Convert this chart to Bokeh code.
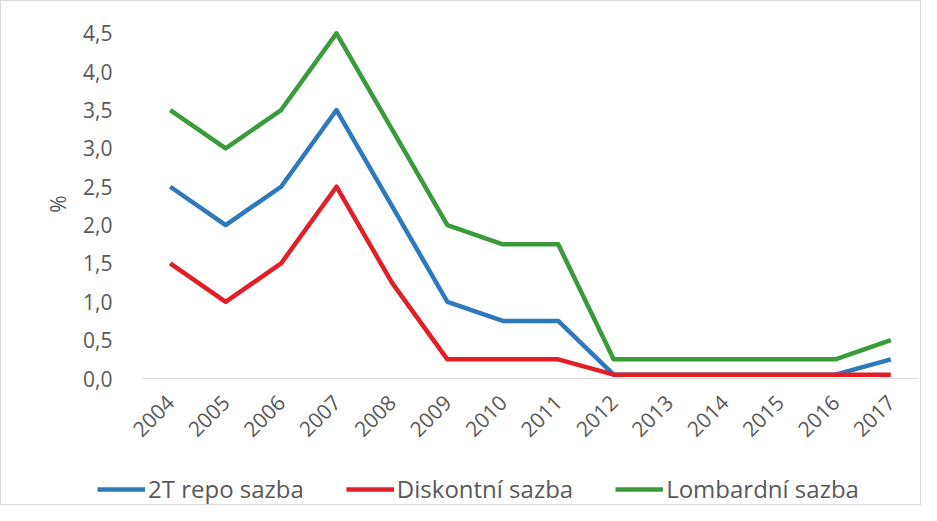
import math
from bokeh.plotting import figure
from bokeh.layouts import column
from bokeh.models import (FactorRange, Range1d, FixedTicker, CustomJSTickFormatter,
                          Legend, LegendItem)
from bokeh.embed import file_html
from bokeh.resources import INLINE

years = [str(y) for y in range(2004, 2018)]
repo = [2.5, 2.0, 2.5, 3.5, 2.25, 1.0, 0.75, 0.75, 0.05, 0.05, 0.05, 0.05, 0.05, 0.25]
diskont = [1.5, 1.0, 1.5, 2.5, 1.25, 0.25, 0.25, 0.25, 0.05, 0.05, 0.05, 0.05, 0.05, 0.05]
lombard = [3.5, 3.0, 3.5, 4.5, 3.25, 2.0, 1.75, 1.75, 0.25, 0.25, 0.25, 0.25, 0.25, 0.5]
y_ticks = [0.0, 0.5, 1.0, 1.5, 2.0, 2.5, 3.0, 3.5, 4.0, 4.5]
series_names = ["2T repo sazba", "Diskontní sazba", "Lombardní sazba"]
colors = ["#2E78BE", "#E21F26", "#3A9B3A"]
series = [repo, diskont, lombard]

FONT = "Open Sans"
TXT = "#595959"
FS = "21px"
W = 921

p = figure(width=W, height=452, x_range=FactorRange(factors=years),
           y_range=Range1d(0, 4.55), output_backend="svg", toolbar_location=None,
           min_border_left=142, min_border_right=3, min_border_top=29,
           min_border_bottom=74)
p.frame_align = False
p.outline_line_color = None
p.border_fill_color = None
p.background_fill_color = None
p.xgrid.grid_line_color = None
p.ygrid.grid_line_color = None

for vals, c in zip(series, colors):
    p.line(years, vals, line_color=c, line_width=4.5, line_join="round")

p.yaxis.ticker = FixedTicker(ticks=y_ticks)
p.yaxis.formatter = CustomJSTickFormatter(code="return tick.toFixed(1).replace('.', ',');")
p.yaxis.axis_line_color = None
p.yaxis.major_tick_line_color = None
p.yaxis.minor_tick_line_color = None
p.yaxis.major_label_text_font = FONT
p.yaxis.major_label_text_font_size = FS
p.yaxis.major_label_text_color = TXT
p.yaxis.major_label_standoff = 24
p.yaxis.axis_label = "%"
p.yaxis.axis_label_text_font = FONT
p.yaxis.axis_label_text_font_size = FS
p.yaxis.axis_label_text_font_style = "normal"
p.yaxis.axis_label_text_color = TXT
p.yaxis.axis_label_standoff = 8

p.xaxis.axis_line_color = "#D9D9D9"
p.xaxis.axis_line_width = 1
p.xaxis.major_tick_line_color = None
p.xaxis.minor_tick_line_color = None
p.xaxis.major_label_orientation = math.pi / 4
p.xaxis.major_label_text_font = FONT
p.xaxis.major_label_text_font_size = FS
p.xaxis.major_label_text_color = TXT
p.xaxis.major_label_standoff = 14

# legend in its own strip below the chart (series drawn there out of view)
p2 = figure(width=W, height=53, x_range=p.x_range, y_range=Range1d(-20, -19),
            x_axis_type=None, y_axis_type=None, output_backend="svg",
            toolbar_location=None, min_border=0)
p2.frame_align = False
p2.outline_line_color = None
p2.border_fill_color = None
p2.background_fill_color = None
p2.xgrid.grid_line_color = None
p2.ygrid.grid_line_color = None
leg_renderers = [p2.line(years, vals, line_color=c, line_width=4.5)
                 for vals, c in zip(series, colors)]
legend = Legend(items=[LegendItem(label=n, renderers=[r]) for n, r in zip(series_names, leg_renderers)],
                orientation="horizontal", location=(97, 0))
legend.label_text_font = FONT
legend.label_text_font_size = "24px"
legend.label_text_color = TXT
legend.glyph_width = 48
legend.glyph_height = 24
legend.spacing = 42
legend.label_standoff = 3
legend.border_line_color = None
legend.background_fill_alpha = 0
legend.padding = 0
legend.margin = 0
p2.add_layout(legend, "center")

layout = column(p, p2, spacing=0,
                styles={"box-shadow": "inset 0 0 0 1px #d9d9d9",
                        "background-color": "white"})

open("out.html", "w").write(file_html(layout, INLINE))
